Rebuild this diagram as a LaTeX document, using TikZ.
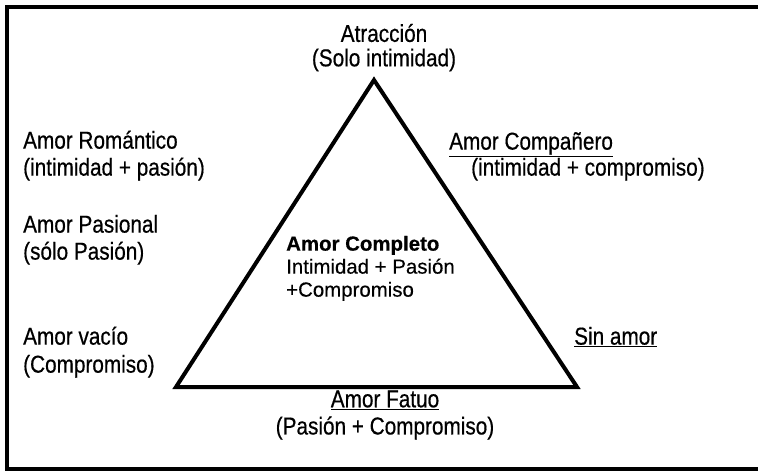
\documentclass[tikz,border=0pt]{standalone}
\usepackage{fontspec}
\setmainfont{Liberation Sans}[FakeStretch=0.85,FakeBold=0.5]
\newfontfamily\plainfont{Liberation Sans}[FakeBold=0.4]
\begin{document}
\begin{tikzpicture}[x=1bp,y=-1bp,
  lab/.style={inner sep=0pt,font=\fontsize{24.5}{27}\selectfont},
  cen/.style={inner sep=0pt,font=\plainfont\fontsize{20.5}{22}\selectfont},
  tri/.style={line width=4bp,line join=miter},
  frame/.style={line width=3.4bp}]
\useasboundingbox (0,0) rectangle (758,471);
\coordinate (f1) at (790,7);
\coordinate (f2) at (7,7);
\coordinate (f3) at (7,469);
\coordinate (f4) at (790,469);
\draw[frame] (f1) -- (f2) -- (f3) -- (f4);
\coordinate (A) at (374,80);
\coordinate (B) at (176,387);
\coordinate (C) at (577,387);
\draw[tri] (A) -- (B) -- (C) -- cycle;
% top
\node[lab] (atr) at (384,33) {Atracción};
\node[lab] (atr2) at (384,60) {(Solo intimidad)};
% left
\node[lab,anchor=mid west] (rom) at (23,146) {Amor Romántico};
\node[lab,anchor=mid west] (rom2) at (23,173) {(intimidad + pasión)};
\node[lab,anchor=mid west] (pas) at (23,230) {Amor Pasional};
\node[lab,anchor=mid west] (pas2) at (23,257) {(sólo Pasión)};
\node[lab,anchor=mid west] (vac) at (23,342) {Amor vacío};
\node[lab,anchor=mid west] (vac2) at (23,370) {(Compromiso)};
% right
\node[lab,anchor=mid west] (com) at (449,147) {\underline{Amor Compañero}};
\node[lab,anchor=mid west] (com2) at (471,173) {(intimidad + compromiso)};
\node[lab,anchor=mid west] (sin) at (574,342) {\underline{Sin amor}};
% bottom
\node[lab] (fat) at (385,400) {\underline{Amor Fatuo}};
\node[lab] (fat2) at (385,428) {(Pasión + Compromiso)};
% centre
\node[cen,anchor=mid west] (cpl) at (286,248) {\textbf{Amor Completo}};
\node[cen,anchor=mid west] (cpl2) at (286,271) {Intimidad + Pasión};
\node[cen,anchor=mid west] (cpl3) at (286,294) {+Compromiso};
\end{tikzpicture}
\end{document}
